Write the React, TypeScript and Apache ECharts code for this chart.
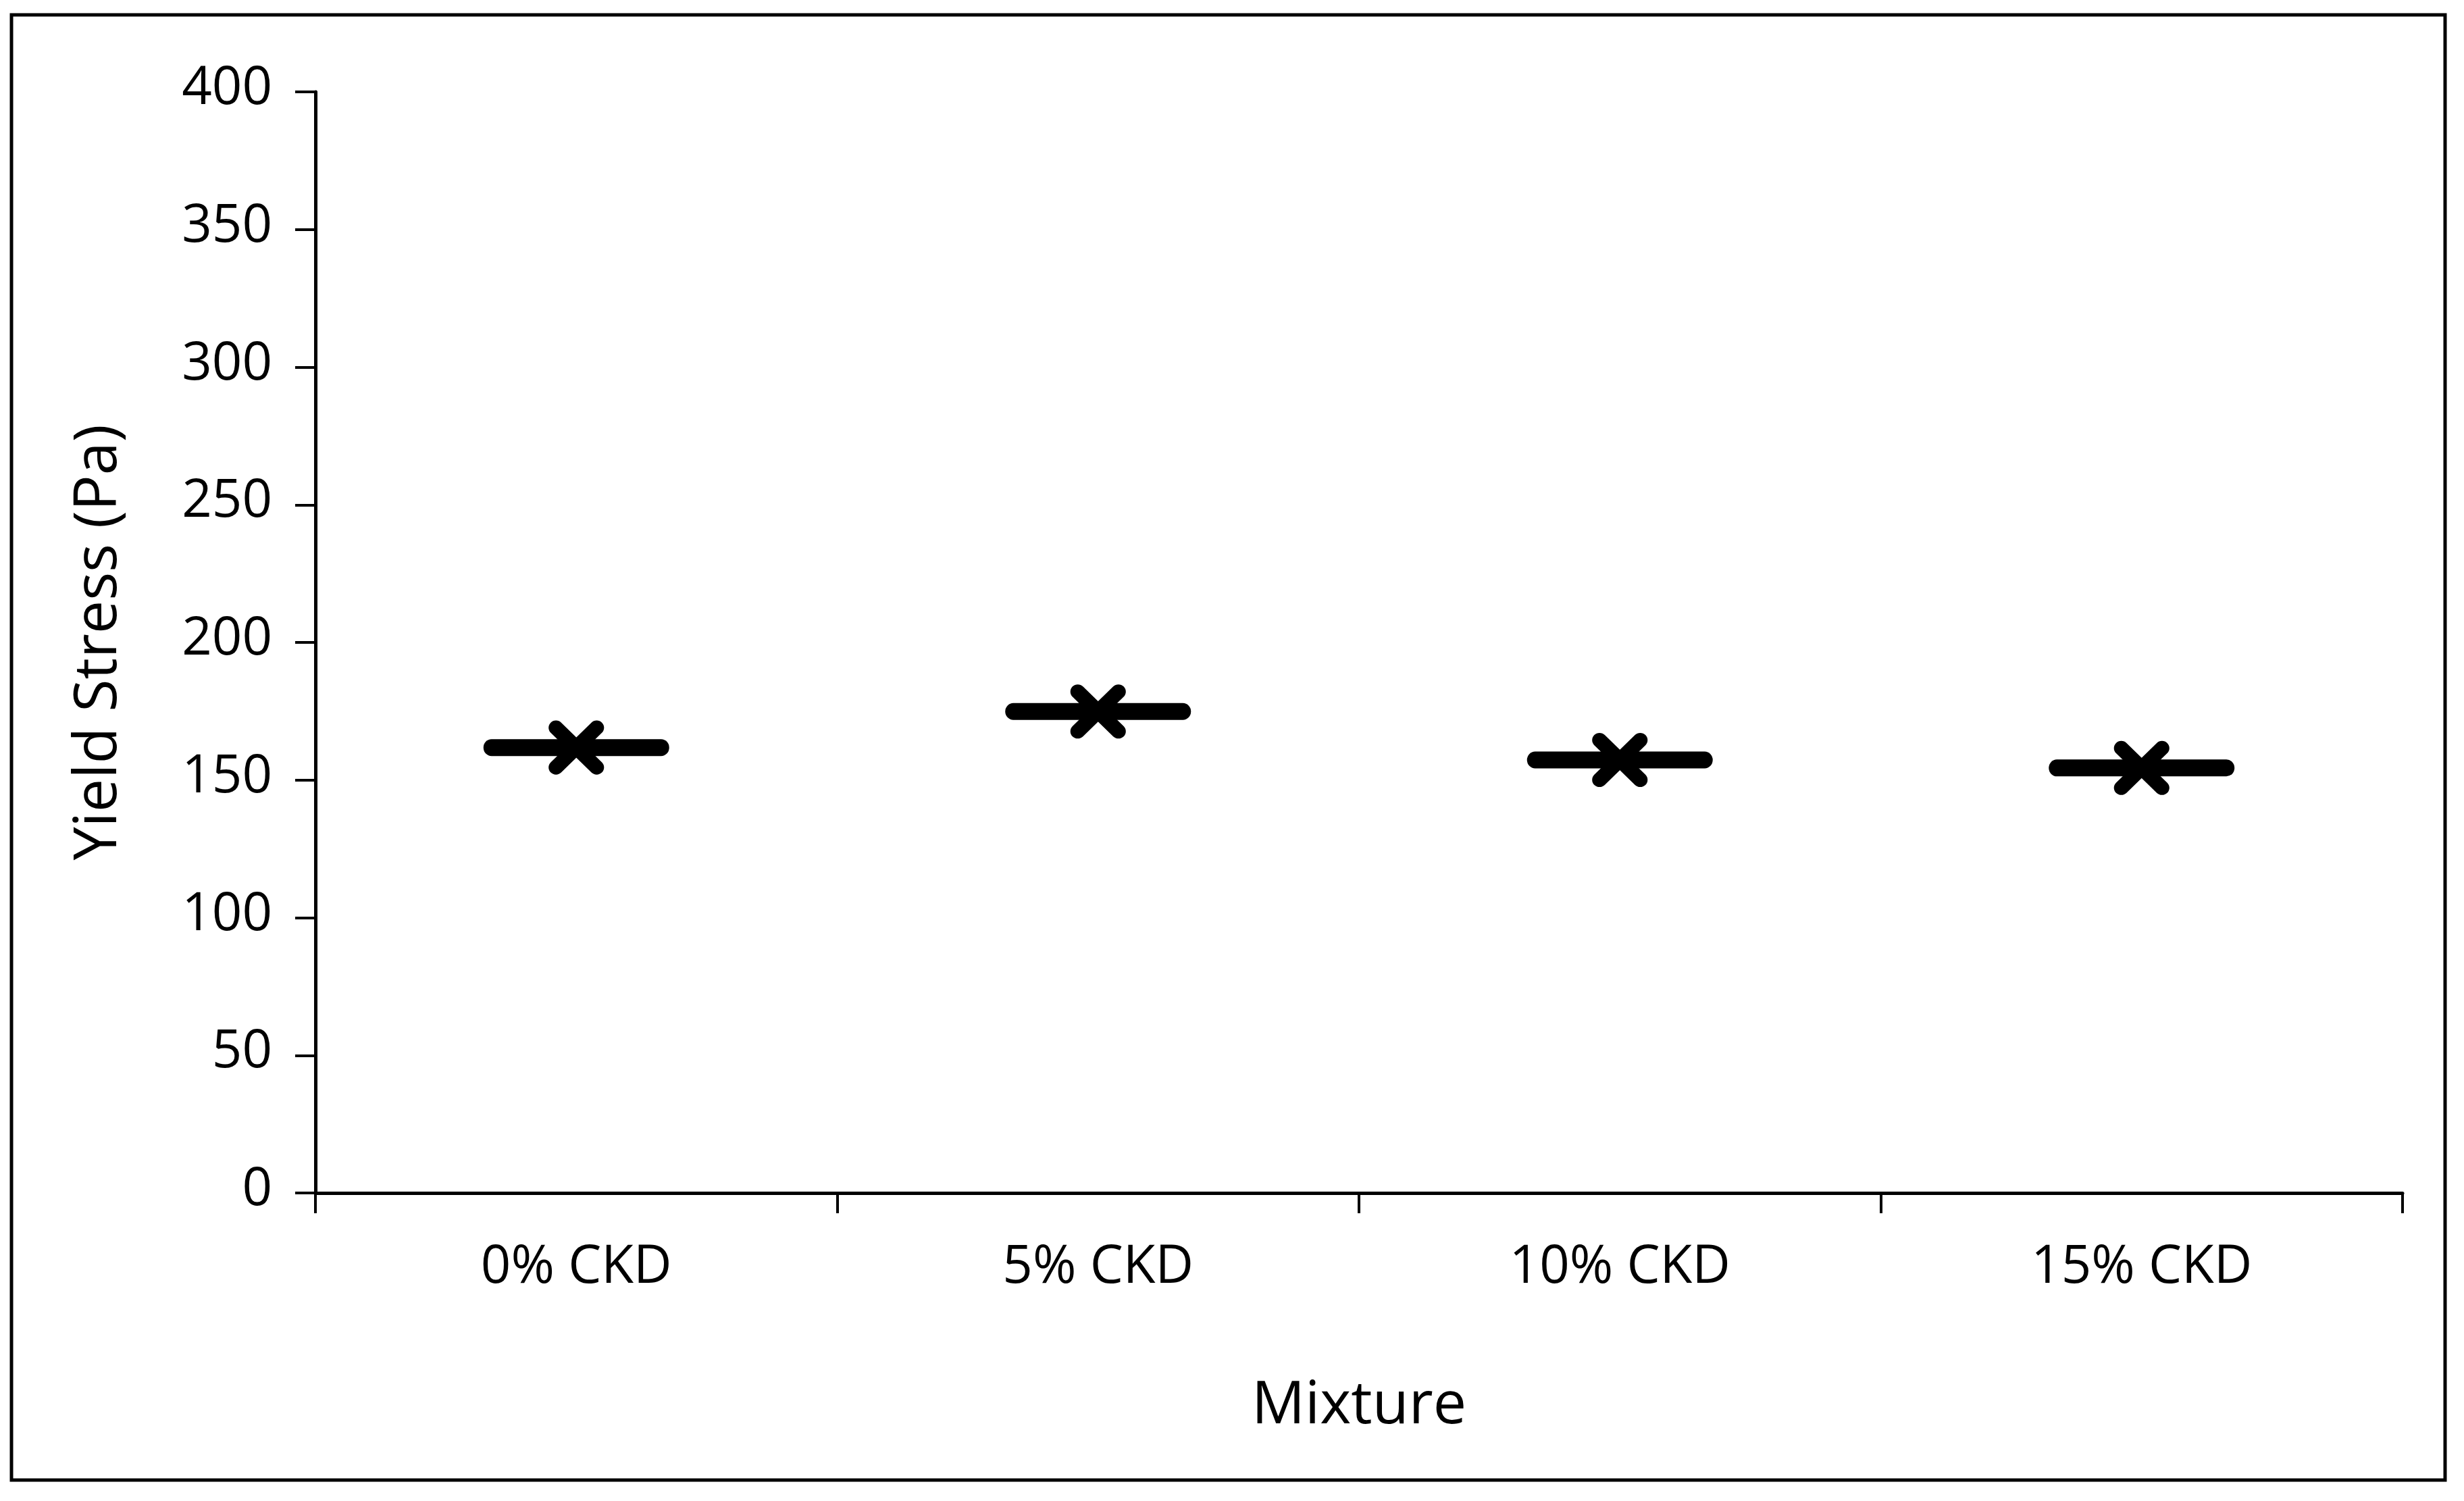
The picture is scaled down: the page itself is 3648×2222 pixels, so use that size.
import React, { useEffect, useRef } from "react";
import * as echarts from "echarts";

const categories = ["0% CKD", "5% CKD", "10% CKD", "15% CKD"];
const yieldStress = [161.8, 174.9, 157.3, 154.4];
const yTicks = { min: 0, max: 400, interval: 50 };
const xTitle = "Mixture";
const yTitle = "Yield Stress (Pa)";

const DASH_PATH =
  "path://M12,0 H263 A12,12 0 0 1 263,24 H12 A12,12 0 0 1 12,0 Z";
const X_PATH =
  "path://M-22.515,-38.071 L38.071,22.515 A11,11 0 0 1 22.515,38.071 L-38.071,-22.515 A11,11 0 0 1 -22.515,-38.071 Z " +
  "M-38.071,22.515 L22.515,-38.071 A11,11 0 0 1 38.071,-22.515 L-22.515,38.071 A11,11 0 0 1 -38.071,22.515 Z";

export default function App() {
  const ref = useRef<HTMLDivElement>(null);
  useEffect(() => {
    if (!ref.current) return;
    const chart = echarts.init(ref.current, null, { renderer: "svg" });
    const font = "'Open Sans', 'Noto Sans', sans-serif";
    chart.setOption({
      animation: false,
      backgroundColor: "#ffffff",
      grid: { left: 467, right: 91, top: 136, bottom: 456, containLabel: false },
      graphic: [
        {
          type: "rect",
          shape: { x: 17, y: 22, width: 3603, height: 2169 },
          style: { fill: "none", stroke: "#000", lineWidth: 5 },
          z: 100,
        },
      ],
      xAxis: {
        type: "category",
        data: categories,
        boundaryGap: true,
        name: xTitle,
        nameLocation: "middle",
        nameGap: 263,
        nameTextStyle: { fontFamily: font, fontSize: 88, color: "#000" },
        axisLine: { show: true, lineStyle: { color: "#000", width: 5 } },
        axisTick: { show: true, inside: false, length: 30, interval: 0, lineStyle: { color: "#000", width: 4 } },
        axisLabel: { fontFamily: font, fontSize: 78, color: "#000", margin: 64, interval: 0 },
        splitLine: { show: false },
      },
      yAxis: {
        type: "value",
        min: yTicks.min,
        max: yTicks.max,
        interval: yTicks.interval,
        name: yTitle,
        nameLocation: "middle",
        nameGap: 285,
        nameTextStyle: { fontFamily: font, fontSize: 88, color: "#000" },
        axisLine: { show: true, lineStyle: { color: "#000", width: 5 } },
        axisTick: { show: true, inside: false, length: 30, lineStyle: { color: "#000", width: 4 } },
        axisLabel: {
          fontFamily: font,
          fontSize: 78,
          color: "#000",
          margin: 64,
          verticalAlign: "bottom",
          lineHeight: 24,
        },
        splitLine: { show: false },
      },
      series: [
        {
          type: "scatter",
          data: yieldStress,
          symbol: DASH_PATH,
          symbolSize: [275, 25],
          itemStyle: { color: "#000", opacity: 1 },
          z: 2,
        },
        {
          type: "scatter",
          data: yieldStress,
          symbol: X_PATH,
          symbolSize: [82, 80],
          itemStyle: { color: "#000", opacity: 1 },
          z: 3,
        },
      ],
    });
    return () => chart.dispose();
  }, []);
  return (
    <div
      ref={ref}
      style={{ position: "fixed", left: 0, top: 0, width: 3648, height: 2222, background: "#fff" }}
    />
  );
}
